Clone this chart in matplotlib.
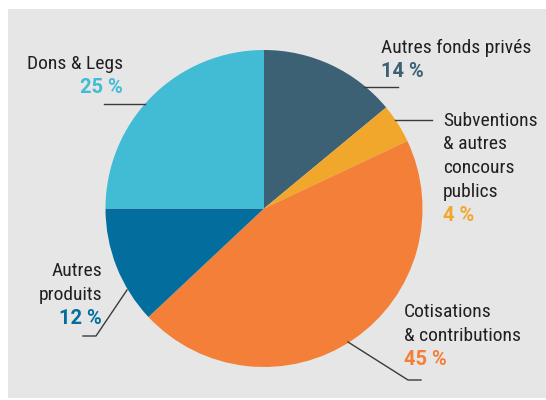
import matplotlib.pyplot as plt
from matplotlib.patches import Rectangle

labels = ["Autres fonds privés", "Subventions\n& autres\nconcours\npublics",
          "Cotisations\n& contributions", "Autres\nproduits", "Dons & Legs"]
values = [14, 4, 45, 12, 25]
colors = ["#3d6174", "#f0a72b", "#f47f38", "#036e9e", "#42bbd4"]

plt.rcParams['font.family'] = ['Roboto Condensed', 'Archivo Narrow', 'PT Sans Narrow',
                               'Liberation Sans Narrow', 'DejaVu Sans']

W, H = 546, 400
fig = plt.figure(figsize=(W / 100, H / 100), dpi=100)
ax = fig.add_axes([0, 0, 1, 1])


def py(y):
    # pixel row from top -> data y
    return H - y


cx, cy, r = 264, py(208.5), 158.5
ax.pie(values, colors=colors, startangle=90, counterclock=False,
       center=(cx, cy), radius=r, wedgeprops=dict(linewidth=0))

# gray panel
ax.add_patch(Rectangle((8, py(398)), W - 8, 398 - 9, facecolor="#e6e6e6",
                       edgecolor="none", zorder=-5))

ax.set_xlim(0, W)
ax.set_ylim(0, H)
ax.set_aspect("auto")
ax.axis("off")

lc = "#3a3a3a"
txt = "#231f20"
fs = 14

# leader lines
ax.plot([364, 398], [py(87), py(87)], color=lc, lw=1)
ax.plot([395, 432], [py(120), py(120)], color=lc, lw=1)
ax.plot([104, 145], [py(104), py(104)], color=lc, lw=1)
ax.plot([348, 408, 421], [py(342), py(380), py(380)], color=lc, lw=1)
ax.plot([127, 96, 83], [py(290), py(336), py(336)], color=lc, lw=1)


def label(x, ys, lines, pct, color, ha):
    for y, line in zip(ys, lines):
        ax.text(x, py(y), line, ha=ha, va="baseline", fontsize=fs, color=txt)
    ax.text(x, py(ys[-1] + 24), f"{pct} %", ha=ha, va="baseline", fontsize=14.5,
            color=color, fontweight="bold", family=["Roboto", "DejaVu Sans"])


label(381, [53], labels[0].split("\n"), values[0], colors[0], "left")
label(443, [126, 149, 173, 197], labels[1].split("\n"), values[1], colors[1], "left")
label(404, [317, 341], labels[2].split("\n"), values[2], colors[2], "left")
label(102, [276, 300], labels[3].split("\n"), values[3], colors[3], "right")
label(123, [69], labels[4].split("\n"), values[4], colors[4], "right")

fig.savefig("out.png", dpi=100)
